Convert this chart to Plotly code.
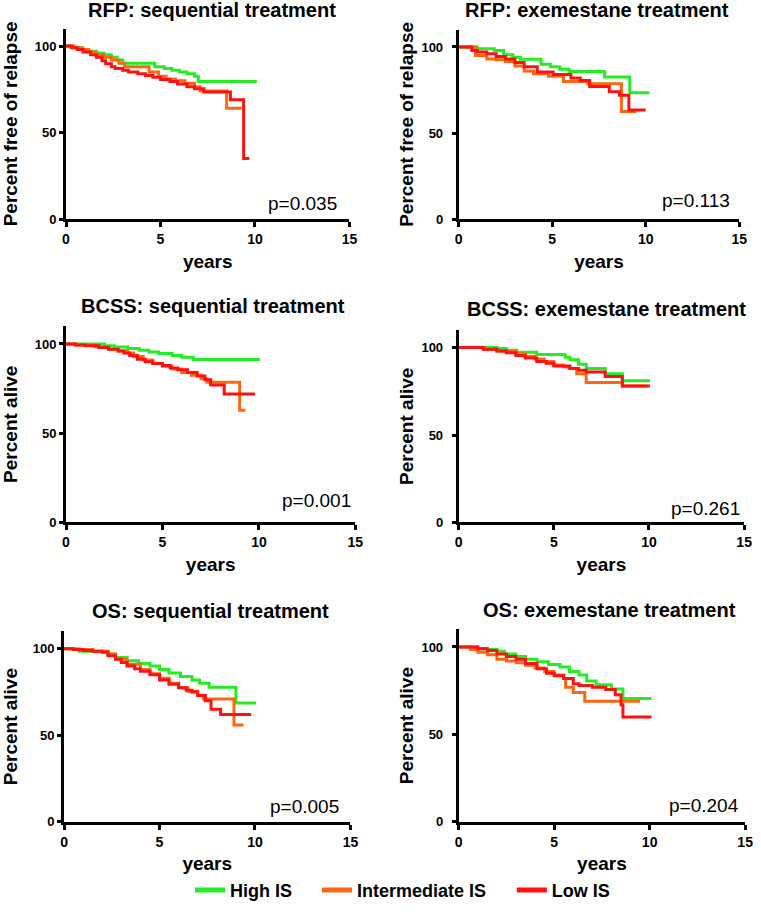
import plotly.graph_objects as go

# ---------------- data ----------------
groups = ["High IS", "Intermediate IS", "Low IS"]
x_ticks = [0, 5, 10, 15]
y_ticks = [0, 50, 100]

# RFP: sequential treatment
rfp_seq_high_t = [0, 0.2, 0.5, 0.9, 1.2, 1.6, 2.0, 2.4, 2.7, 3.0, 4.7, 5.2, 5.6, 6.0, 6.4, 6.8, 7.0, 10.1]
rfp_seq_high_s = [100, 99.5, 99, 98, 97, 96, 95, 93.5, 92, 90, 88, 87, 86, 85, 84, 82.5, 79.5, 79.5]
rfp_seq_int_t = [0, 0.4, 0.8, 1.2, 1.6, 2.0, 2.4, 2.8, 3.1, 4.4, 4.9, 5.3, 5.8, 6.3, 6.8, 7.1, 8.5, 9.3]
rfp_seq_int_s = [100, 99, 98, 96.5, 95, 93.5, 92, 90, 88, 85, 82.5, 81, 80, 78.5, 76.5, 74, 64, 64]
rfp_seq_low_t = [0, 0.3, 0.6, 0.9, 1.3, 1.6, 1.9, 2.1, 2.4, 2.6, 3.0, 3.3, 3.8, 4.2, 4.6, 5.0, 5.5, 5.9, 6.4, 6.8, 7.3, 8.7, 9.4, 9.7]
rfp_seq_low_s = [100, 99, 98, 96.5, 95, 93.5, 91.5, 89.7, 88, 87, 86, 85, 84, 83, 82, 80.6, 79.5, 78, 76.5, 75.3, 73.4, 69, 35, 35]

# RFP: exemestane treatment
rfp_exe_high_t = [0, 1.0, 1.9, 2.4, 2.9, 3.3, 4.4, 4.9, 5.4, 5.9, 7.8, 9.15, 10.2]
rfp_exe_high_s = [100, 99, 98, 95.5, 94, 92.8, 90, 88.5, 87, 85.7, 82.6, 73.4, 73.4]
rfp_exe_int_t = [0, 0.9, 1.5, 2.0, 2.5, 3.0, 3.5, 4.0, 4.8, 5.6, 6.9, 8.7, 9.5]
rfp_exe_int_s = [100, 95, 93, 92.5, 91.5, 89, 86, 84.5, 83, 80, 78.6, 62.5, 62.5]
rfp_exe_low_t = [0, 0.7, 1.0, 1.5, 2.0, 2.5, 3.0, 3.5, 4.2, 5.05, 6.0, 6.5, 7.0, 8.05, 8.6, 9.1, 10.0]
rfp_exe_low_s = [100, 98, 97, 96, 94.5, 93, 91, 88.5, 85.5, 84, 82, 80.5, 77, 74, 72, 63.3, 63.3]

# BCSS: sequential treatment
bcss_seq_high_t = [0, 2.0, 2.5, 3.2, 3.8, 4.3, 4.8, 5.5, 6.0, 6.6, 10.05]
bcss_seq_high_s = [100, 99, 98.3, 97.4, 96.5, 95.5, 94.6, 93.5, 92.5, 91.3, 91.3]
bcss_seq_int_t = [0, 0.5, 1.5, 2.2, 2.7, 3.2, 3.5, 4.0, 4.5, 5.0, 5.5, 6.0, 6.5, 7.0, 7.3, 9.0, 9.3]
bcss_seq_int_s = [100, 99.5, 98.5, 97, 96, 95, 93, 91, 89, 87.5, 86, 84, 82.5, 80.5, 78.5, 62.8, 62.8]
bcss_seq_low_t = [0, 0.5, 1.0, 1.7, 2.2, 2.7, 3.0, 3.3, 3.7, 4.1, 4.5, 5.0, 5.4, 5.8, 6.3, 6.8, 7.2, 7.5, 8.2, 9.8]
bcss_seq_low_s = [100, 99.5, 99, 98, 97, 96, 95, 93.5, 91.5, 90, 89, 88, 86.5, 85.5, 84, 82, 80, 77, 72, 72]

# BCSS: exemestane treatment
bcss_exe_high_t = [0, 2.0, 2.5, 3.05, 4.1, 5.3, 5.6, 5.85, 6.3, 6.7, 7.7, 8.6, 10.05]
bcss_exe_high_s = [100, 99.5, 98.5, 97.3, 96, 96, 94.5, 93, 90.5, 88, 85, 81, 81]
bcss_exe_int_t = [0, 1.3, 2.0, 3.0, 3.5, 4.0, 4.5, 5.0, 5.5, 5.8, 6.2, 6.7, 8.6, 9.9]
bcss_exe_int_s = [100, 99, 98, 96.5, 95, 93.5, 92, 90, 89, 88, 85, 80, 78, 78]
bcss_exe_low_t = [0, 1.3, 2.0, 2.5, 3.0, 3.5, 4.1, 4.6, 5.0, 5.85, 6.3, 6.7, 7.7, 8.6, 10.05]
bcss_exe_low_s = [100, 99, 98, 97, 95.5, 94, 92, 91, 89.5, 88, 87, 86, 83.5, 78, 78]

# OS: sequential treatment
os_seq_high_t = [0, 0.8, 2.3, 2.7, 3.3, 3.9, 4.5, 5.0, 5.5, 6.1, 6.7, 7.1, 7.6, 9.0, 10.05]
os_seq_high_s = [100, 98.5, 97, 95, 93, 91.5, 90, 88, 86, 84, 82, 80, 77.7, 68.6, 68.6]
os_seq_int_t = [0, 0.5, 1.5, 2.3, 2.7, 3.3, 4.0, 4.5, 5.0, 5.5, 6.0, 6.5, 7.0, 7.3, 8.9, 9.4]
os_seq_int_s = [100, 99.5, 98.5, 97, 94, 91, 88, 85.5, 83, 80, 77.5, 75.5, 73, 71, 56, 56]
os_seq_low_t = [0, 0.5, 1.0, 1.5, 2.0, 2.3, 2.7, 3.0, 3.3, 3.7, 4.0, 4.5, 5.0, 5.5, 6.0, 6.4, 6.7, 7.0, 7.4, 7.7, 8.2, 9.8]
os_seq_low_s = [100, 99.5, 99, 98.5, 98, 96, 94, 92, 90, 88.5, 87, 85, 82, 79.5, 77.5, 76, 75, 73, 70, 65, 62, 62]

# OS: exemestane treatment
os_exe_high_t = [0, 1.0, 1.5, 2.0, 2.4, 3.0, 3.5, 4.1, 4.7, 5.3, 5.8, 6.3, 6.7, 7.2, 8.0, 8.6, 10.1]
os_exe_high_s = [100, 99, 98.5, 97.5, 96, 94.5, 93, 91.5, 90, 88.6, 86, 84, 80.5, 78.4, 76, 70.5, 70.5]
os_exe_int_t = [0, 0.6, 1.0, 1.5, 2.0, 2.5, 3.0, 3.5, 4.0, 4.5, 5.0, 5.5, 5.6, 6.0, 6.6, 9.5]
os_exe_int_s = [100, 98.5, 97, 95.5, 93, 92, 91, 89.5, 88, 86, 84, 82, 77, 74, 69, 69]
os_exe_low_t = [0, 1.0, 1.5, 2.0, 2.5, 3.0, 3.5, 4.1, 4.6, 5.0, 5.5, 6.0, 6.3, 7.0, 7.7, 8.2, 8.5, 8.6, 10.1]
os_exe_low_s = [100, 99, 98, 96, 94.5, 93, 90.5, 87.5, 85, 83.5, 82, 79, 78, 77, 75.6, 72.7, 67, 60, 60]

titles = ["RFP: sequential treatment", "RFP: exemestane treatment",
          "BCSS: sequential treatment", "BCSS: exemestane treatment",
          "OS: sequential treatment", "OS: exemestane treatment"]
y_titles = ["Percent free of relapse", "Percent free of relapse",
            "Percent alive", "Percent alive", "Percent alive", "Percent alive"]
p_values = ["p=0.035", "p=0.113", "p=0.001", "p=0.261", "p=0.005", "p=0.204"]

series = [
    [(rfp_seq_high_t, rfp_seq_high_s), (rfp_seq_int_t, rfp_seq_int_s), (rfp_seq_low_t, rfp_seq_low_s)],
    [(rfp_exe_high_t, rfp_exe_high_s), (rfp_exe_int_t, rfp_exe_int_s), (rfp_exe_low_t, rfp_exe_low_s)],
    [(bcss_seq_high_t, bcss_seq_high_s), (bcss_seq_int_t, bcss_seq_int_s), (bcss_seq_low_t, bcss_seq_low_s)],
    [(bcss_exe_high_t, bcss_exe_high_s), (bcss_exe_int_t, bcss_exe_int_s), (bcss_exe_low_t, bcss_exe_low_s)],
    [(os_seq_high_t, os_seq_high_s), (os_seq_int_t, os_seq_int_s), (os_seq_low_t, os_seq_low_s)],
    [(os_exe_high_t, os_exe_high_s), (os_exe_int_t, os_exe_int_s), (os_exe_low_t, os_exe_low_s)],
]

# ---------------- styling / layout ----------------
W, H = 761, 919
COLORS = ["#22ee22", "#ff6611", "#ff1111"]
FONT = "Liberation Sans, Arial, sans-serif"

# plot areas in pixels: (left, right, top(y=110), bottom(y=0))
boxes = [(63, 351, 29, 221), (462, 747, 30, 221),
         (63, 357, 329, 527), (462, 752, 333, 527),
         (61, 352, 637, 829), (462, 753, 635, 829)]
title_pos = [(211, 10), (602, 10), (212, 309), (612, 312), (210, 616), (615, 615)]
p_pos = [(14.45, 9.2), (14.6, 11), (14.9, 12.2), (14.9, 8), (14.5, 9.1), (14.8, 9.1)]
legend_left = [189, 318, 516]   # px, left edge of each legend box

fig = go.Figure()
layout = dict(
    width=W, height=H, autosize=False,
    margin=dict(l=0, r=0, t=0, b=0),
    paper_bgcolor="white", plot_bgcolor="white",
    font=dict(family=FONT, color="black"),
    showlegend=True,
)
for g in range(3):
    lkey = "legend" if g == 0 else f"legend{g+1}"
    layout[lkey] = dict(orientation="h", x=legend_left[g] / W, xanchor="left",
                        y=1 - 898 / H, yanchor="middle",
                        font=dict(family=FONT, size=18, weight=700), itemwidth=30,
                        bgcolor="rgba(0,0,0,0)", borderwidth=0)
annotations = []

for i in range(6):
    xa = "x" if i == 0 else f"x{i+1}"
    ya = "y" if i == 0 else f"y{i+1}"
    xkey = "xaxis" if i == 0 else f"xaxis{i+1}"
    ykey = "yaxis" if i == 0 else f"yaxis{i+1}"
    right_col = (i % 2 == 1)
    l, r, t, b = boxes[i]
    layout[xkey] = dict(
        domain=[l / W, r / W], anchor=ya, range=[0, 15], tickvals=x_ticks,
        showline=True, linewidth=3, linecolor="black", ticks="outside", ticklen=5,
        tickwidth=3, tickcolor="black", showgrid=False, zeroline=False,
        tickfont=dict(family=FONT, size=14, weight=700),
        title=dict(text="years", font=dict(family=FONT, size=19, weight=700), standoff=9),
    )
    layout[ykey] = dict(
        domain=[1 - b / H, 1 - t / H], anchor=xa, range=[0, 110], tickvals=y_ticks,
        showline=True, linewidth=3, linecolor="black", ticks="outside", ticklen=4,
        tickwidth=3, tickcolor="black", showgrid=False, zeroline=False,
        ticklabelstandoff=6 if right_col else 0,
        tickfont=dict(family=FONT, size=13, weight=700),
        title=dict(text=y_titles[i], font=dict(family=FONT, size=19, weight=700),
                   standoff=3 if right_col else 14),
    )
    for g, (tt, ss) in enumerate(series[i]):
        fig.add_trace(go.Scatter(
            x=tt, y=ss, mode="lines", line=dict(color=COLORS[g], width=3, shape="hv"),
            name=groups[g], showlegend=False, xaxis=xa, yaxis=ya, cliponaxis=True))
    tx, ty = title_pos[i]
    annotations.append(dict(text=titles[i], x=tx / W, y=1 - ty / H, xref="paper", yref="paper",
                            showarrow=False, xanchor="center", yanchor="middle",
                            font=dict(family=FONT, size=20, weight=700)))
    px_, py_ = p_pos[i]
    annotations.append(dict(text=p_values[i], x=px_, y=py_, xref=xa, yref=ya, showarrow=False,
                            xanchor="right", yanchor="middle",
                            font=dict(family=FONT, size=19)))

# legend-only entries (one legend box per group, placed like the original key)
for g in range(3):
    fig.add_trace(go.Scatter(x=[None], y=[None], mode="lines", name=groups[g],
                             line=dict(color=COLORS[g], width=5), showlegend=True,
                             legend="legend" if g == 0 else f"legend{g+1}",
                             xaxis="x", yaxis="y"))

layout["annotations"] = annotations
fig.update_layout(**layout)
fig.write_html("out.html", config={"displayModeBar": False},
               post_script="document.body.style.margin='0px';document.body.style.overflow='hidden';")
